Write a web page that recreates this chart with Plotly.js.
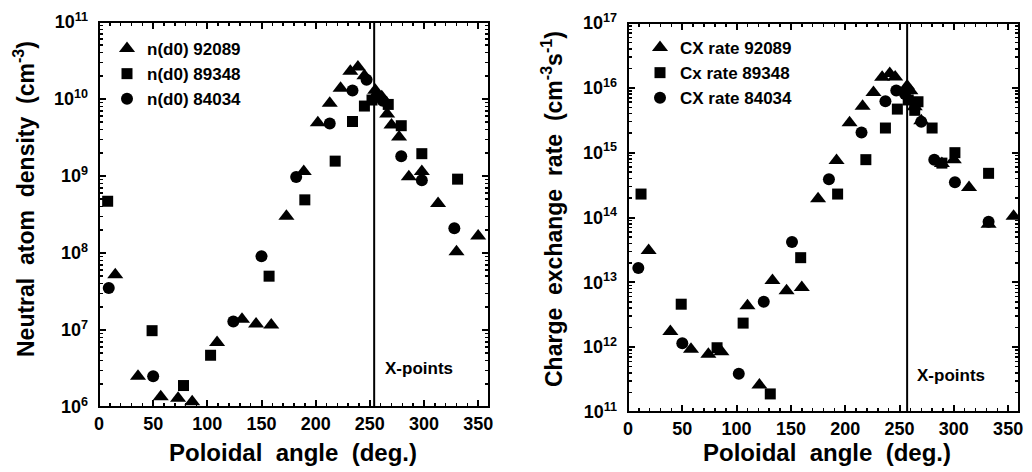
<!DOCTYPE html>
<html>
<head>
<meta charset="utf-8">
<script src="https://cdn.plot.ly/plotly-3.0.1.min.js"></script>
<style>
html,body{margin:0;padding:0;background:#fff;}
#wrap{position:relative;width:1032px;height:472px;}
#chart{position:absolute;left:0;top:0;width:1032px;height:472px;}
#frame{position:absolute;left:0;top:0;width:1032px;height:472px;pointer-events:none;}
#frame div{position:absolute;background:#000;}
</style>
</head>
<body>
<div id="wrap"><div id="chart"></div><div id="frame"></div></div>
<script>
// ---- Left panel: neutral atom density (cm^-3) ----
const nd92089Angle = [15, 36, 57, 73, 86, 109, 132, 145, 159, 173, 189, 202, 213, 223, 232, 239, 245, 255, 261, 266, 270, 277, 286, 298, 313, 330, 350];
const nd92089Val   = [5.2e7, 2.5e6, 1.36e6, 1.3e6, 1.17e6, 6.9e6, 1.38e7, 1.2e7, 1.16e7, 3.0e8, 1.14e9, 4.9e9, 8.8e9, 1.38e10, 2.3e10, 2.6e10, 2.0e10, 1.3e10, 1.07e10, 6.4e9, 4.6e9, 3.2e9, 9.8e8, 1.14e9, 4.4e8, 1.04e8, 1.66e8];
const nd89348Angle = [8, 49, 78, 103, 157, 190, 218, 234, 245, 252, 267, 279, 298, 331];
const nd89348Val   = [4.7e8, 9.8e6, 1.9e6, 4.7e6, 5.0e7, 4.9e8, 1.56e9, 5.1e9, 8.1e9, 9.7e9, 8.5e9, 4.5e9, 1.95e9, 9.1e8];
const nd84034Angle = [9, 50, 124, 150, 182, 213, 234, 247, 256, 262, 279, 298, 328];
const nd84034Val   = [3.5e7, 2.5e6, 1.29e7, 9.1e7, 9.7e8, 4.8e9, 1.29e10, 1.78e10, 1.07e10, 9.5e9, 1.8e9, 8.8e8, 2.1e8];

// ---- Right panel: charge exchange rate (cm^-3 s^-1) ----
const cx92089Angle = [19, 39, 58, 74, 86, 110, 121, 133, 146, 160, 175, 192, 204, 216, 226, 234, 241, 246, 257, 260, 264, 270, 289, 300, 314, 332, 355];
const cx92089Val   = [3.1e13, 1.74e12, 9.3e11, 7.8e11, 8.5e11, 4.35e12, 2.6e11, 1.07e13, 7.4e12, 8.3e12, 1.95e14, 7.6e14, 2.9e15, 5.2e15, 8.5e15, 1.45e16, 1.66e16, 1.47e16, 1.07e16, 9.0e15, 5.1e15, 3.1e15, 6.8e14, 7.8e14, 2.9e14, 7.9e13, 1.05e14];
const cx89348Angle = [12, 49, 82, 106, 131, 159, 193, 219, 237, 248, 258, 264, 267, 280, 289, 301, 332];
const cx89348Val   = [2.3e14, 4.6e12, 9.8e11, 2.35e12, 1.9e11, 2.4e13, 2.3e14, 7.8e14, 2.4e15, 4.7e15, 6.5e15, 4.5e15, 6.1e15, 2.4e15, 6.9e14, 1.0e15, 4.8e14];
const cx84034Angle = [9.5, 50, 102, 125, 151, 185, 215, 237, 247, 255, 270, 282, 301, 332];
const cx84034Val   = [1.66e13, 1.15e12, 3.9e11, 5.0e12, 4.2e13, 3.9e14, 2.05e15, 6.2e15, 9.1e15, 8.0e15, 3.0e15, 7.8e14, 3.5e14, 8.6e13];

const legendLeft  = ["n(d0) 92089", "n(d0) 89348", "n(d0) 84034"];
const legendRight = ["CX rate 92089", "Cx rate 89348", "CX rate 84034"];
const xTickVals = [0, 50, 100, 150, 200, 250, 300, 350];
const leftDecades = [6, 7, 8, 9, 10, 11];
const rightDecades = [11, 12, 13, 14, 15, 16, 17];
const xPointLeft = 254;
const xPointRight = 257;

const FONT = "Liberation Sans";
const W = 1032, H = 472;
const X_RANGE = [0, 360];

const symbols = ["triangle-up", "square", "circle"];
const sizes = [14, 11, 12];
function mk(x, y, i, name, xa, ya, leg) {
  return {
    x: x, y: y, type: "scatter", mode: "markers", name: name,
    xaxis: xa, yaxis: ya, legend: leg,
    marker: {symbol: symbols[i], size: sizes[i], color: "#000"}
  };
}

const traces = [
  mk(nd92089Angle, nd92089Val, 0, legendLeft[0], "x", "y", "legend"),
  mk(nd89348Angle, nd89348Val, 1, legendLeft[1], "x", "y", "legend"),
  mk(nd84034Angle, nd84034Val, 2, legendLeft[2], "x", "y", "legend"),
  mk(cx92089Angle, cx92089Val, 0, legendRight[0], "x2", "y2", "legend2"),
  mk(cx89348Angle, cx89348Val, 1, legendRight[1], "x2", "y2", "legend2"),
  mk(cx84034Angle, cx84034Val, 2, legendRight[2], "x2", "y2", "legend2")
];

function tf() { return {family: FONT, size: 18, color: "#000", weight: "bold"}; }
function xAxis(domain, anchor) {
  return {
    domain: domain, anchor: anchor, range: X_RANGE,
    tickvals: xTickVals, ticks: "", showline: false,
    showgrid: false, zeroline: false, tickfont: tf(), ticklabelstandoff: 4
  };
}
function yAxis(domain, anchor, decs) {
  return {
    domain: domain, anchor: anchor, type: "log",
    range: [decs[0], decs[decs.length - 1]],
    tickvals: decs.map(d => Math.pow(10, d)),
    ticktext: decs.map(d => "10<sup>" + d + "</sup>"),
    ticks: "", showline: false,
    showgrid: false, zeroline: false, tickfont: tf(), ticklabelstandoff: 10
  };
}

const lx = [99 / W, 489 / W], ly = [1 - 407 / H, 1 - 22 / H];
const rx = [628 / W, 1019 / W], ry = [1 - 412 / H, 1 - 23 / H];

function lf() { return {family: FONT, size: 17, color: "#000", weight: "bold"}; }
function af(s) { return {family: FONT, size: s, color: "#000", weight: "bold"}; }
const layout = {
  width: W, height: H,
  margin: {l: 0, r: 0, t: 0, b: 0},
  xaxis: xAxis(lx, "y"),
  yaxis: yAxis(ly, "x", leftDecades),
  xaxis2: xAxis(rx, "y2"),
  yaxis2: yAxis(ry, "x2", rightDecades),
  legend: {x: 107 / W, y: 1 - 31 / H, xanchor: "left", yanchor: "top", bgcolor: "rgba(0,0,0,0)", font: lf()},
  legend2: {x: 640 / W, y: 1 - 30 / H, xanchor: "left", yanchor: "top", bgcolor: "rgba(0,0,0,0)", font: lf()},
  shapes: [
    {type: "line", xref: "x", yref: "paper", x0: xPointLeft, x1: xPointLeft, y0: ly[0], y1: ly[1], line: {color: "#000", width: 2}},
    {type: "line", xref: "x2", yref: "paper", x0: xPointRight, x1: xPointRight, y0: ry[0], y1: ry[1], line: {color: "#000", width: 2}}
  ],
  annotations: [
    {text: "X-points", xref: "paper", yref: "paper", x: 383 / W, y: 1 - 368 / H, xanchor: "left", yanchor: "middle",
     showarrow: false, font: af(17)},
    {text: "X-points", xref: "paper", yref: "paper", x: 915 / W, y: 1 - 375 / H, xanchor: "left", yanchor: "middle",
     showarrow: false, font: af(17)},
    {text: "Poloidal  angle  (deg.)", xref: "paper", yref: "paper", x: 293 / W, y: 1 - 452 / H, xanchor: "center", yanchor: "middle",
     showarrow: false, font: af(24)},
    {text: "Poloidal  angle  (deg.)", xref: "paper", yref: "paper", x: 827 / W, y: 1 - 452 / H, xanchor: "center", yanchor: "middle",
     showarrow: false, font: af(24)},
    {text: "Neutral  atom  density  (cm<sup>-3</sup>)", xref: "paper", yref: "paper", x: 24 / W, y: 1 - 199 / H, xanchor: "center", yanchor: "middle",
     textangle: -90, showarrow: false, font: af(23)},
    {text: "Charge  exchange  rate  (cm<sup>-3</sup>s<sup>-1</sup>)", xref: "paper", yref: "paper", x: 552 / W, y: 1 - 209 / H, xanchor: "center", yanchor: "middle",
     textangle: -90, showarrow: false, font: af(23)}
  ],
  showlegend: true
};

// Panel frame and tick marks, placed with the library's own axis scales
function drawFrame(gd, xName, yName) {
  const fl = gd._fullLayout;
  const xa = fl[xName], ya = fl[yName];
  const box = document.getElementById("frame");
  const add = (l, t, w, h) => {
    const d = document.createElement("div");
    d.style.left = l + "px"; d.style.top = t + "px"; d.style.width = w + "px"; d.style.height = h + "px";
    box.appendChild(d);
  };
  const x0 = xa._offset, x1 = xa._offset + xa._length;
  const y0 = ya._offset, y1 = ya._offset + ya._length;   // y0 top, y1 bottom
  const px = v => xa._offset + xa.l2p(v);
  const py = v => ya._offset + ya.l2p(Math.log10(v));
  // x ticks: major every 50, minor every 10
  for (let v = X_RANGE[0] + 10; v < X_RANGE[1]; v += 10) {
    const major = xTickVals.indexOf(v) >= 0;
    const len = major ? 7 : 4, w = major ? 2 : 1.5, p = px(v);
    add(p - w / 2, y1 - len, w, len);
    add(p - w / 2, y0, w, len);
  }
  // y ticks: decades major, 2..9 minor
  const lo = Math.round(ya.range[0]), hi = Math.round(ya.range[1]);
  for (let d = lo; d < hi; d++) {
    for (let m = 1; m <= 9; m++) {
      if (d === lo && m === 1) continue;
      const major = m === 1;
      const len = major ? 7 : 4, w = major ? 2 : 1.5, p = py(m * Math.pow(10, d));
      add(x0, p - w / 2, len, w);
      add(x1 - len, p - w / 2, len, w);
    }
  }
  const lw = 2.5, h = lw / 2;
  add(x0 - h, y0 - h, x1 - x0 + lw, lw);
  add(x0 - h, y1 - h, x1 - x0 + lw, lw);
  add(x0 - h, y0 - h, lw, y1 - y0 + lw);
  add(x1 - h, y0 - h, lw, y1 - y0 + lw);
}

Plotly.newPlot("chart", traces, layout, {displayModeBar: false}).then(function (gd) {
  drawFrame(gd, "xaxis", "yaxis");
  drawFrame(gd, "xaxis2", "yaxis2");
});
</script>
</body>
</html>
